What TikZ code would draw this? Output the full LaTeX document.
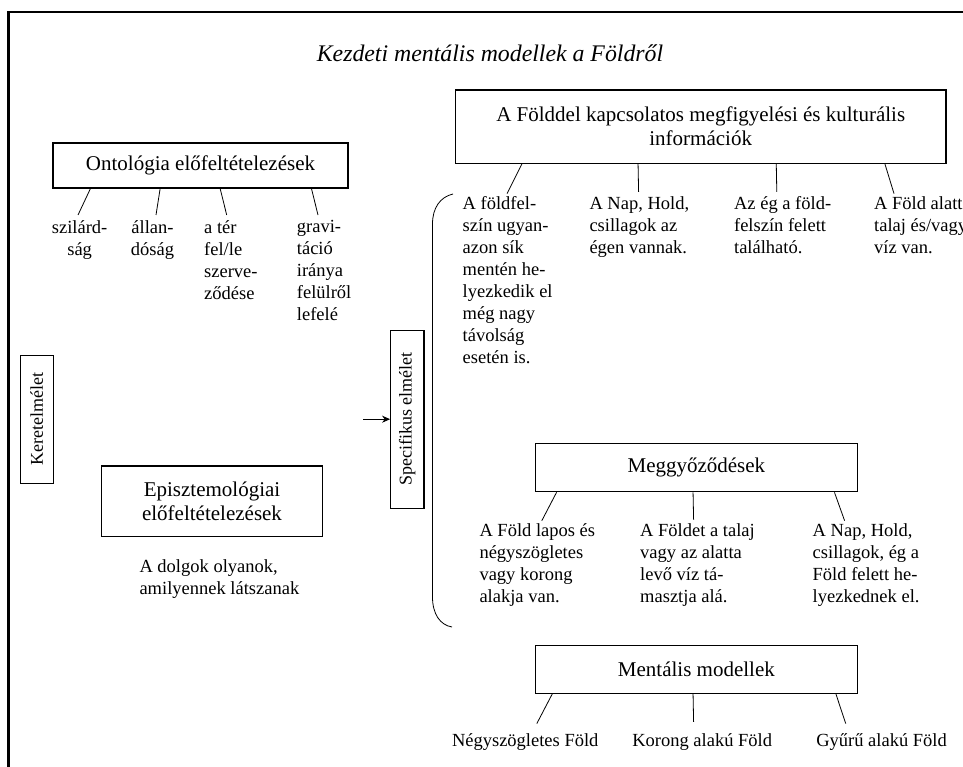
\documentclass[tikz,border=0pt]{standalone}
\usepackage{fontspec}
\setmainfont{Liberation Serif}
\usetikzlibrary{arrows.meta,calc}
\begin{document}
\begin{tikzpicture}[x=1pt,y=-1pt,
  box/.style={draw, line width=1.1pt, inner sep=0pt, align=center, font=\fontsize{21}{24}\selectfont},
  vbox/.style={draw, line width=1.1pt, inner sep=0pt, rotate=90, font=\fontsize{18}{21}\selectfont},
  leaf/.style={inner sep=0pt, anchor=north west, align=left, font=\fontsize{18.5}{22}\selectfont},
  cleaf/.style={leaf, align=center},
  conn/.style={line width=0.8pt},
  frame/.style={line width=2.6pt}
]
\useasboundingbox (0,0) rectangle (963,767);
% frame
\coordinate (fb) at (8.7,772);
\coordinate (fc) at (8.7,12.2);
\coordinate (fr) at (968,12.2);
\draw[frame] (fb) -- (fc) -- (fr);

% title
\node[font=\fontsize{23.8}{28}\selectfont\itshape, anchor=base, inner sep=0pt] (title) at (490,62) {Kezdeti mentális modellek a Földről};

% ontology
\node[box, minimum width=295pt, minimum height=45pt] (ont) at (200.5,165.5) {Ontológia előfeltételezések};
\node[cleaf] (l1) at (51.7,220.4) {szilárd-\\ság};
\node[cleaf] (l2) at (130.7,220.4) {állan-\\dóság};
\node[leaf] (l3) at (204,220.4) {a tér\\fel/le\\szerve-\\ződése};
\node[leaf] (l4) at (296.7,220.4) {gravi-\\táció\\iránya\\felülről\\lefelé};
\draw[conn] ([xshift=38pt]ont.south west) -- ([shift={(26.3,-5.4)}]l1.north west);
\draw[conn] ([xshift=107.7pt]ont.south west) -- ([shift={(25.3,-5.4)}]l2.north west);
\draw[conn] ([xshift=167.7pt]ont.south west) -- ([shift={(22.7,-5.4)}]l3.north west);
\draw[conn] ([xshift=259pt]ont.south west) -- ([shift={(21.3,-5.4)}]l4.north west);

% Keretelmelet
\node[vbox, minimum width=128.3pt, minimum height=33.3pt] (keret) at (36.7,419.2) {Keretelmélet};

% Episztemologiai
\node[box, minimum width=220.6pt, minimum height=70.7pt] (epi) at (212,501.3) {Episztemológiai\\előfeltételezések};
\node[leaf] (dolgok) at (139.3,559.1) {A dolgok olyanok,\\amilyennek látszanak};

% Specifikus
\node[vbox, minimum width=178.3pt, minimum height=33.3pt] (spec) at (407.3,419.2) {Specifikus elmélet};
\coordinate (arrstart) at (363.3,419.2);
\draw[conn, -{Stealth[length=8pt,width=7pt]}] (arrstart) -- (spec.north);

% brace
\coordinate (br1) at (453,194);
\coordinate (br2) at (432.5,224);
\coordinate (br3) at (432.5,597);
\coordinate (br4) at (452,627);
\draw[conn] (br1) .. controls (440,197) and (432.5,208) .. (br2) -- (br3) .. controls (432.5,614) and (440,625) .. (br4);

% info box
\node[box, minimum width=490.6pt, minimum height=73.2pt] (info) at (700.7,126.6) {A Földdel kapcsolatos megfigyelési és kulturális\\információk};
\node[leaf] (i1) at (462.5,196.7) {A földfel-\\szín ugyan-\\azon sík\\mentén he-\\lyezkedik el\\még nagy\\távolság\\esetén is.};
\node[leaf] (i2) at (589.3,196.7) {A Nap, Hold,\\csillagok az\\égen vannak.};
\node[leaf] (i3) at (733.9,196.7) {Az ég a föld-\\felszín felett\\található.};
\node[leaf] (i4) at (874,196.7) {A Föld alatt\\talaj és/vagy\\víz van.};
\draw[conn] ([xshift=67.1pt]info.south west) -- ([shift={(44.6,-3.1)}]i1.north west);
\draw[conn] ([xshift=183.2pt]info.south west) -- ([shift={(49.3,-4.9)}]i2.north west);
\draw[conn] ([xshift=321.4pt]info.south west) -- ([shift={(42.9,-4.9)}]i3.north west);
\draw[conn] ([xshift=430pt]info.south west) -- ([shift={(20,-3.1)}]i4.north west);

% beliefs
\node[box, minimum width=321.4pt, minimum height=47.9pt] (megg) at (696.4,467.85) {Meggyőződések};
\node[leaf] (m1) at (479.3,523.8) {A Föld lapos és\\négyszögletes\\vagy korong\\alakja van.};
\node[leaf] (m2) at (640,523.8) {A Földet a talaj\\vagy az alatta\\levő víz tá-\\masztja alá.};
\node[leaf] (m3) at (812.5,523.8) {A Nap, Hold,\\csillagok, ég a\\Föld felett he-\\lyezkednek el.};
\draw[conn] ([xshift=21.4pt]megg.south west) -- ([shift={(62.5,-3.1)}]m1.north west);
\draw[conn] ([xshift=157.9pt]megg.south west) -- ([shift={(53.6,-4.2)}]m2.north west);
\draw[conn] ([xshift=299.3pt]megg.south west) -- ([shift={(32.1,-3.1)}]m3.north west);

% mental models
\node[box, minimum width=321.4pt, minimum height=47.5pt] (ment) at (696.4,669.45) {Mentális modellek};
\node[leaf] (b1) at (451.8,733.8) {Négyszögletes Föld};
\node[leaf] (b2) at (632.1,733.8) {Korong alakú Föld};
\node[leaf] (b3) at (816.1,733.8) {Gyűrű alakú Föld};
\draw[conn] ([xshift=17.2pt]ment.south west) -- ([shift={(85,-10.2)}]b1.north west);
\draw[conn] ([xshift=157.9pt]ment.south west) -- ([shift={(61.5,-12)}]b2.north west);
\draw[conn] ([xshift=300.7pt]ment.south west) -- ([shift={(29.6,-10.2)}]b3.north west);
\end{tikzpicture}
\end{document}
